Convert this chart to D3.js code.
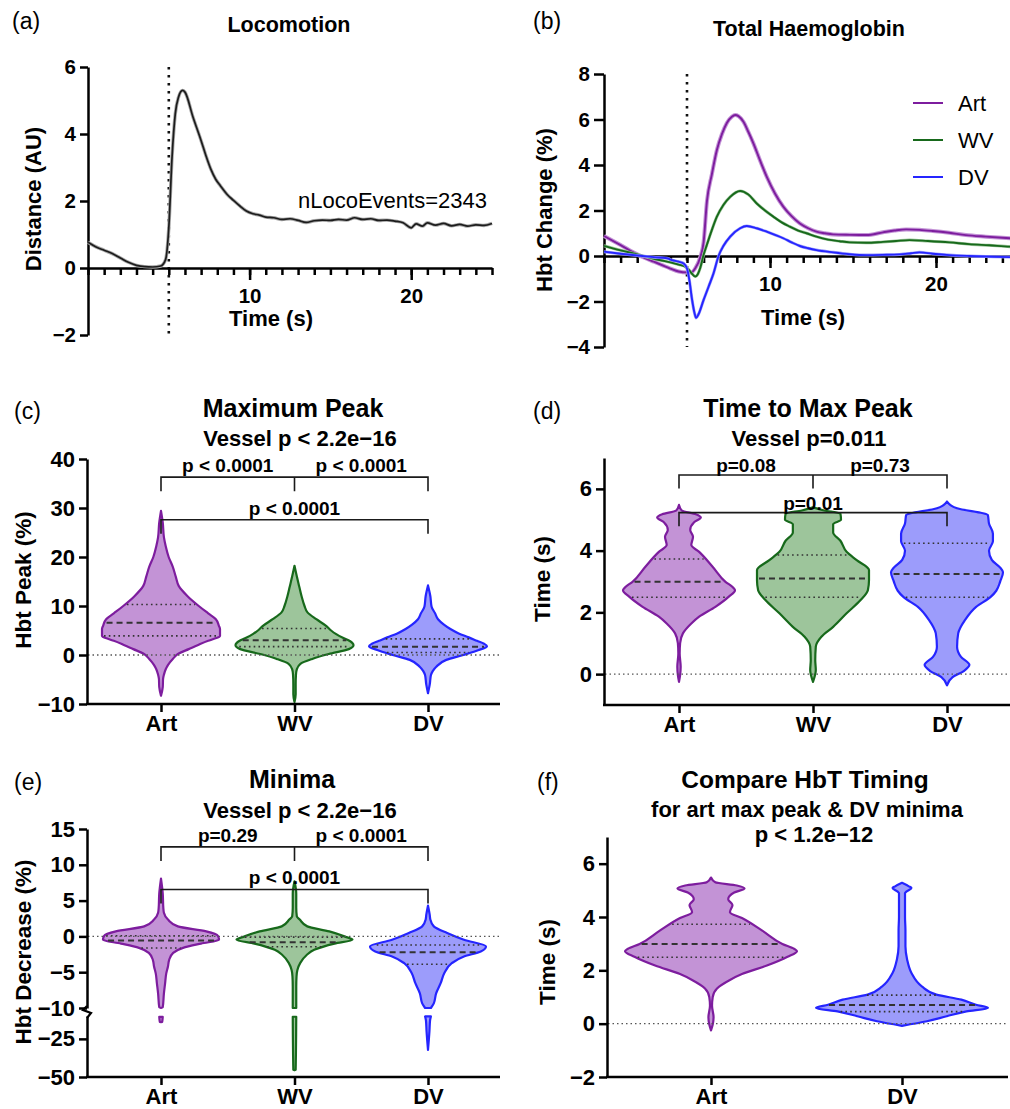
<!DOCTYPE html>
<html>
<head>
<meta charset="utf-8">
<script src="https://cdn.jsdelivr.net/npm/d3@7"></script>
<style>
  body { margin: 0; background: #fff; }
  svg { display: block; }
</style>
</head>
<body>
<div id="fig"></div>
<script>
// ---- data -------------------------------------------------------------

const vesselNames = ['Art', 'WV', 'DV'];
const vesselStroke = ['#7d1d9e', '#17691b', '#2525ff'];
const vesselFill = ['#c393d6', '#9dc59b', '#9c9cfb'];

// (a) locomotion, [time s, distance AU]
const locoTrace = [
  [0, 0.77], [0.5, 0.63], [1, 0.53], [1.5, 0.43], [2, 0.3], [2.5, 0.17], [3, 0.08], [3.5, 0.04],
  [4, 0.03], [4.5, 0.06], [4.8, 0.25], [5.0, 1.2], [5.2, 3.3], [5.4, 4.6], [5.6, 5.1], [5.85, 5.3],
  [6.0, 5.25], [6.5, 4.5], [7.0, 3.8], [7.3, 3.35], [7.6, 2.95], [7.9, 2.65], [8.2, 2.45],
  [8.6, 2.2], [9.0, 2.02], [9.4, 1.85], [9.8, 1.7], [10.2, 1.62], [10.6, 1.58], [11, 1.52],
  [11.5, 1.5], [12, 1.45], [12.5, 1.47], [13, 1.42], [13.5, 1.36], [14, 1.41], [14.5, 1.43],
  [15, 1.42], [15.5, 1.45], [16, 1.43], [16.5, 1.5], [17, 1.45], [17.5, 1.47], [18, 1.42],
  [18.5, 1.43], [19, 1.4], [19.5, 1.35], [20, 1.2], [20.3, 1.32], [20.7, 1.25], [21, 1.35],
  [21.5, 1.28], [22, 1.33], [22.5, 1.26], [23, 1.3], [23.5, 1.25], [24, 1.29], [24.5, 1.27], [25, 1.33]
];

// (b) total haemoglobin, [time s, change %]
const hbtArt = [
  [0, 0.88], [1, 0.48], [2, 0.07], [2.5, -0.1], [3, -0.25], [3.5, -0.4], [4, -0.55], [4.5, -0.68],
  [5, -0.72], [5.25, -0.72], [5.5, -0.54], [5.8, -0.05], [6.0, 0.6], [6.2, 2.4], [6.5, 3.6],
  [6.8, 4.66], [7.1, 5.35], [7.4, 5.85], [7.7, 6.12], [7.9, 6.2], [8.1, 6.15], [8.4, 5.9],
  [8.7, 5.45], [9.0, 4.95], [9.4, 4.2], [9.8, 3.49], [10.3, 2.75], [10.8, 2.17], [11.3, 1.75],
  [11.8, 1.43], [12.3, 1.22], [12.8, 1.07], [13.3, 1.0], [13.8, 0.95], [14.8, 0.93], [15.8, 0.92],
  [16.8, 1.04], [17.5, 1.12], [18.2, 1.17], [19, 1.15], [19.8, 1.1], [20.8, 1.02], [21.8, 0.92],
  [23, 0.85], [24, 0.8], [25, 0.76]
];
const hbtWV = [
  [0, 0.45], [1, 0.25], [2, 0.07], [2.5, -0.03], [3, -0.12], [3.5, -0.2], [4, -0.28], [4.5, -0.38],
  [4.9, -0.47], [5.1, -0.6], [5.3, -0.78], [5.5, -0.9], [5.65, -0.8], [5.8, -0.52], [6.0, 0.05],
  [6.2, 0.5], [6.5, 1.15], [6.8, 1.73], [7.2, 2.25], [7.6, 2.6], [8.2, 2.86], [8.7, 2.7], [9.2, 2.31],
  [9.7, 2.0], [10.2, 1.73], [10.7, 1.48], [11.2, 1.29], [11.7, 1.12], [12.2, 1.0], [12.8, 0.85],
  [13.5, 0.72], [14.2, 0.65], [14.8, 0.6], [15.8, 0.58], [16.8, 0.62], [17.6, 0.66], [18.4, 0.7],
  [19.5, 0.66], [20.8, 0.6], [22, 0.52], [23.2, 0.47], [24.5, 0.41], [25, 0.4]
];
const hbtDV = [
  [0, 0.19], [1, 0.1], [2, 0.02], [3, -0.05], [3.8, -0.1], [4.1, -0.18], [4.5, -0.25], [4.8, -0.33],
  [5.0, -0.55], [5.15, -1.1], [5.3, -1.9], [5.45, -2.5], [5.55, -2.72], [5.7, -2.55], [6.0, -1.93],
  [6.3, -1.35], [6.6, -0.76], [6.9, 0.0], [7.2, 0.45], [7.6, 0.85], [8.2, 1.22], [8.6, 1.32],
  [9.2, 1.22], [9.8, 1.07], [10.3, 0.93], [10.8, 0.78], [11.3, 0.6], [11.8, 0.44], [12.3, 0.34],
  [12.8, 0.26], [13.8, 0.16], [14.8, 0.08], [15.8, 0.04], [16.8, 0.05], [17.8, 0.07], [18.5, 0.12],
  [19, 0.16], [19.8, 0.1], [20.8, 0.04], [22, 0.0], [23.5, -0.03], [25, -0.06]
];

// violins: [value, relative density]
const maxPeakArt = [
  [29.4, 0], [27, 0.03], [24, 0.05], [22.2, 0.08], [20, 0.13], [18, 0.2], [16, 0.25], [14.1, 0.3],
  [12, 0.45], [10, 0.64], [8.5, 0.8], [7.3, 0.93], [6, 0.98], [5.3, 1.0], [3.9, 1.0], [3.3, 0.9],
  [2.9, 0.8], [2, 0.62], [1.2, 0.47], [0.3, 0.3], [-0.8, 0.2], [-2, 0.12], [-2.9, 0.08],
  [-4, 0.05], [-4.9, 0.035], [-6.5, 0.03], [-8.3, 0]
];
const maxPeakWV = [
  [18.2, 0], [16, 0.04], [14, 0.08], [12, 0.12], [10, 0.17], [8.7, 0.22], [7.3, 0.37], [6, 0.53],
  [5, 0.62], [4.3, 0.7], [3.5, 0.82], [2.9, 0.93], [2.0, 1.0], [1.2, 0.92], [0.2, 0.58],
  [-0.8, 0.3], [-1.8, 0.1], [-2.9, 0.04], [-4, 0.025], [-6, 0.02], [-8, 0.02], [-9.6, 0]
];
const maxPeakDV = [
  [14.2, 0], [12, 0.04], [9.9, 0.06], [8.5, 0.12], [7.3, 0.17], [6.2, 0.27], [5.3, 0.38],
  [4.4, 0.52], [3.6, 0.69], [2.9, 0.83], [2.3, 0.95], [1.8, 1.0], [1.0, 0.86], [0, 0.6],
  [-1.0, 0.31], [-2.4, 0.14], [-3.3, 0.08], [-4.1, 0.05], [-6, 0.03], [-7.8, 0]
];
const maxPeakQuart = [[10.3, 6.6, 3.9], [5.4, 3.0, 1.7], [3.3, 1.7, 0.5]];
const maxPeakP = ['p < 0.0001', 'p < 0.0001', 'p < 0.0001'];

const timePeakArt = [
  [5.48, 0], [5.3, 0.05], [5.18, 0.3], [5.07, 0.39], [4.92, 0.27], [4.67, 0.2], [4.45, 0.25],
  [4.18, 0.22], [3.96, 0.36], [3.48, 0.6], [2.99, 0.83], [2.8, 0.97], [2.72, 1.0], [2.51, 0.89],
  [2.18, 0.65], [1.86, 0.36], [1.64, 0.22], [1.32, 0.07], [1.0, 0.02], [0.67, 0.012],
  [0.24, 0.03], [-0.03, 0.02], [-0.25, 0]
];
const timePeakWV = [
  [5.4, 0], [5.3, 0.2], [5.2, 0.49], [5.0, 0.5], [4.86, 0.36], [4.59, 0.36], [4.32, 0.49],
  [3.96, 0.6], [3.69, 0.78], [3.37, 1.0], [3.04, 1.0], [2.72, 0.98], [2.4, 0.85], [1.97, 0.6],
  [1.53, 0.36], [1.21, 0.15], [0.89, 0.05], [0.45, 0.04], [0.13, 0.05], [-0.25, 0]
];
const timePeakDV = [
  [5.59, 0], [5.37, 0.18], [5.15, 0.73], [4.88, 0.75], [4.55, 0.82], [4.3, 0.82], [4.0, 0.75],
  [3.7, 0.8], [3.45, 0.95], [3.3, 1.0], [3.0, 0.95], [2.7, 0.88], [2.5, 0.78], [2.18, 0.52],
  [1.75, 0.32], [1.32, 0.2], [0.89, 0.18], [0.56, 0.25], [0.3, 0.4], [0.1, 0.3], [-0.1, 0.1], [-0.36, 0]
];
const timePeakQuart = [[3.73, 2.99, 2.49], [3.86, 3.1, 2.49], [4.24, 3.24, 2.49]];
const timePeakP = ['p=0.08', 'p=0.73', 'p=0.01'];

const minimaArt = [
  [8.06, 0], [6, 0.03], [4, 0.04], [3.3, 0.05], [2.35, 0.12], [1.4, 0.29], [0.7, 0.78],
  [0.1, 0.98], [-0.47, 1.0], [-1.0, 0.69], [-1.6, 0.38], [-2.3, 0.21], [-3.3, 0.14],
  [-4.2, 0.12], [-5.2, 0.09], [-6.6, 0.07], [-8, 0.05], [-9.9, 0.03], [-10, 0]
];
const minimaWV = [
  [7.7, 0], [6, 0.03], [4, 0.03], [2.8, 0.04], [2.35, 0.09], [1.4, 0.22], [0.7, 0.6], [0, 0.86],
  [-0.47, 1.0], [-1.0, 0.69], [-1.87, 0.34], [-2.6, 0.21], [-3.7, 0.1], [-4.7, 0.05],
  [-5.6, 0.035], [-7, 0.03], [-10, 0.03]
];
const minimaDV = [
  [4.3, 0], [3, 0.03], [2.35, 0.04], [1.4, 0.1], [0.47, 0.33], [-0.47, 0.62], [-1.4, 1.0],
  [-2.1, 0.91], [-2.8, 0.62], [-3.74, 0.41], [-5.14, 0.28], [-6.5, 0.22], [-7.95, 0.14],
  [-9.35, 0.1], [-10, 0.05]
];
// part of the minima violins below the axis break
const minimaArtLow = [[-10.6, 0.03], [-13.9, 0.02], [-14, 0]];
const minimaWVLow = [[-10.5, 0.03], [-45.4, 0.02], [-45.6, 0]];
const minimaDVLow = [[-10.3, 0.05], [-13, 0.035], [-20, 0.025], [-32.2, 0]];
const minimaQuart = [[0.1, -0.56, -1.63], [-0.1, -0.8, -1.45], [-1.2, -2.2, -3.9]];
const minimaP = ['p=0.29', 'p < 0.0001', 'p < 0.0001'];

const timingNames = ['Art', 'DV'];
const timingDV = [
  [5.28, 0], [5.15, 0.08], [5.09, 0.11], [4.95, 0.05], [4.9, 0.035], [4.5, 0.035], [4, 0.035],
  [3.5, 0.04], [2.9, 0.04], [2.4, 0.06], [1.9, 0.11], [1.4, 0.23], [1.09, 0.4], [0.9, 0.69],
  [0.71, 0.86], [0.59, 1.0], [0.46, 0.75], [0.28, 0.52], [0.09, 0.29], [-0.08, 0]
];
const timingQuart = [[3.73, 2.99, 2.49], [1.07, 0.7, 0.45]];

// ---- drawing -----------------------------------------------------------

const FONT = '"Liberation Sans", Arial, Helvetica, sans-serif';
const svg = d3.select('#fig').append('svg')
  .attr('width', 1010).attr('height', 1109)
  .style('font-family', FONT);

function label(x, y, str, size, weight, anchor, rotate) {
  const t = svg.append('text')
    .attr('font-size', size)
    .attr('font-weight', weight || 'bold')
    .attr('text-anchor', anchor || 'middle')
    .attr('fill', '#000')
    .text(str);
  if (rotate) t.attr('transform', `translate(${x},${y}) rotate(-90)`);
  else t.attr('x', x).attr('y', y);
  return t;
}

function styleAxis(g, fs) {
  g.attr('font-family', FONT).attr('font-size', fs).attr('font-weight', 'bold');
  g.select('.domain').attr('stroke', '#000').attr('stroke-width', 2.5);
  g.selectAll('.tick line').attr('stroke', '#000').attr('stroke-width', 2.5);
  g.selectAll('.tick text').attr('fill', '#000');
}

function yAxis(x, scale, ticks, fs, size) {
  const g = svg.append('g').attr('transform', `translate(${x},0)`)
    .call(d3.axisLeft(scale).tickValues(ticks).tickFormat(d3.format('d'))
      .tickSize(size || 8).tickSizeOuter(0).tickPadding(4));
  styleAxis(g, fs);
  return g;
}

function timeAxis(scale, y0) {
  // minor ticks every second, labels at 10 and 20
  const minor = svg.append('g').attr('transform', `translate(0,${y0})`)
    .call(d3.axisBottom(scale).tickValues(d3.range(0, 26)).tickSize(7).tickSizeOuter(0).tickFormat(''));
  styleAxis(minor, 20.5);
  const major = svg.append('g').attr('transform', `translate(0,${y0})`)
    .call(d3.axisBottom(scale).tickValues([10, 20]).tickSize(12).tickPadding(8));
  styleAxis(major, 20.5);
  major.select('.domain').remove();
}

function vline(x, y1, y2) {
  svg.append('line').attr('x1', x).attr('x2', x).attr('y1', y1).attr('y2', y2)
    .attr('stroke', '#111').attr('stroke-width', 2.6).attr('stroke-dasharray', '2.5,5.5');
}

// ---- (a) Locomotion
const xA = d3.scaleLinear().domain([0, 25]).range([88, 492]);
const yA = d3.scaleLinear().domain([-2, 6]).range([335, 67]);
vline(xA(5), yA(6), yA(-2));
yAxis(88, yA, [-2, 0, 2, 4, 6], 20.5);
timeAxis(xA, yA(0));
const locoLine = d3.line().x(d => xA(d[0])).y(d => yA(d[1])).curve(d3.curveMonotoneX);
svg.append('path').attr('d', locoLine(locoTrace)).attr('fill', 'none')
  .attr('stroke', '#a8a8a8').attr('stroke-width', 3.4);
svg.append('path').attr('d', locoLine(locoTrace)).attr('fill', 'none')
  .attr('stroke', '#1c1c1c').attr('stroke-width', 1.7);
label(12, 29, '(a)', 23, 'normal', 'start');
label(289, 32, 'Locomotion', 21.5);
label(271, 326, 'Time (s)', 22);
label(41, 199, 'Distance (AU)', 22, 'bold', 'middle', true);
label(298, 208, 'nLocoEvents=2343', 22, 'normal', 'start');

// ---- (b) Total Haemoglobin
const xB = d3.scaleLinear().domain([0, 25]).range([604, 1019]);
const yB = d3.scaleLinear().domain([-4, 8]).range([347, 74]);
vline(xB(5), yB(8), yB(-4));
yAxis(604, yB, [-4, -2, 0, 2, 4, 6, 8], 20.5, 10);
timeAxis(xB, yB(0));
const hbtLine = d3.line().x(d => xB(d[0])).y(d => yB(d[1])).curve(d3.curveMonotoneX);
[hbtArt, hbtWV, hbtDV].forEach((s, i) => {
  svg.append('path').attr('d', hbtLine(s)).attr('fill', 'none')
    .attr('stroke', vesselFill[i]).attr('stroke-width', i === 0 ? 4 : 3);
  svg.append('path').attr('d', hbtLine(s)).attr('fill', 'none')
    .attr('stroke', vesselStroke[i]).attr('stroke-width', 1.9);
});
vesselNames.forEach((n, i) => {
  const ly = 103 + i * 37;
  svg.append('line').attr('x1', 913).attr('x2', 943).attr('y1', ly).attr('y2', ly)
    .attr('stroke', vesselStroke[i]).attr('stroke-width', 2);
  label(958, ly + 8, n, 22, 'normal', 'start');
});
label(533, 29, '(b)', 23, 'normal', 'start');
label(809, 36, 'Total Haemoglobin', 21.5);
label(803, 325, 'Time (s)', 22);
label(552, 210, 'Hbt Change (%)', 22, 'bold', 'middle', true);

// ---- violin helpers
function densAt(dens, v) {
  for (let i = 0; i < dens.length - 1; i++) {
    const a = dens[i], b = dens[i + 1];
    if (v <= a[0] && v >= b[0]) {
      const f = (a[0] - v) / (a[0] - b[0]);
      return a[1] + f * (b[1] - a[1]);
    }
  }
  return 0;
}

function drawViolin(dens, quart, cx, y, w, ci) {
  const area = d3.area().curve(d3.curveMonotoneY)
    .y(d => y(d[0]))
    .x0(d => cx - w(d[1]))
    .x1(d => cx + w(d[1]));
  svg.append('path').attr('d', area(dens))
    .attr('fill', vesselFill[ci]).attr('stroke', vesselStroke[ci])
    .attr('stroke-width', 2.2).attr('stroke-linejoin', 'round');
  quart.forEach((v, i) => {
    const hw = Math.max(0, w(densAt(dens, v)) - 2);
    svg.append('line').attr('x1', cx - hw).attr('x2', cx + hw).attr('y1', y(v)).attr('y2', y(v))
      .attr('stroke', '#333')
      .attr('stroke-width', i === 1 ? 2 : 1.6)
      .attr('stroke-dasharray', i === 1 ? '6,4' : '1.6,3.2');
  });
}

function zeroLine(x1, x2, y) {
  svg.append('line').attr('x1', x1).attr('x2', x2).attr('y1', y).attr('y2', y)
    .attr('stroke', '#555').attr('stroke-width', 1.3).attr('stroke-dasharray', '1.5,3');
}

function catAxis(xCat, y0, x1, x2) {
  svg.append('line').attr('x1', x1).attr('x2', x2).attr('y1', y0).attr('y2', y0)
    .attr('stroke', '#000').attr('stroke-width', 2.5);
  const g = svg.append('g').attr('transform', `translate(0,${y0})`)
    .call(d3.axisBottom(xCat).tickSize(8).tickPadding(3));
  styleAxis(g, 22);
  g.select('.domain').remove();
}

function brackets(xCat, y, upper, lower, labels, tick, gap) {
  const xa = xCat('Art'), xw = xCat('WV'), xd = xCat('DV');
  const yu = y(upper), yl = y(lower);
  const pen = p => svg.append('path').attr('d', p).attr('fill', 'none')
    .attr('stroke', '#1a1a1a').attr('stroke-width', 1.6);
  pen(`M${xa},${yu + tick}V${yu}H${xd}V${yu + tick}M${xw},${yu}V${yu + tick}`);
  pen(`M${xa},${yl + tick}V${yl}H${xd}V${yl + tick}`);
  label((xa + xw) / 2, yu - gap, labels[0], 19);
  label((xw + xd) / 2, yu - gap, labels[1], 19);
  label((xa + xd) / 2, yl - gap, labels[2], 19);
}

// ---- (c) Maximum Peak
const xC = d3.scalePoint().domain(vesselNames).range([161, 428]);
const yC = d3.scaleLinear().domain([-10, 40]).range([704, 459]);
const wC = d3.scaleLinear().domain([0, 1]).range([0, 59]);
[maxPeakArt, maxPeakWV, maxPeakDV].forEach((d, i) =>
  drawViolin(d, maxPeakQuart[i], xC(vesselNames[i]), yC, wC, i));
zeroLine(88, 500, yC(0));
yAxis(87, yC, [-10, 0, 10, 20, 30, 40], 22);
catAxis(xC, 704, 86, 500);
brackets(xC, yC, 36.3, 27.6, maxPeakP, 14, 5);
label(14, 419, '(c)', 23, 'normal', 'start');
label(293, 417, 'Maximum Peak', 25);
label(300, 446, 'Vessel p < 2.2e\u221216', 22);
label(31, 580, 'Hbt Peak (%)', 22.5, 'bold', 'middle', true);

// ---- (d) Time to Max Peak
const xD = d3.scalePoint().domain(vesselNames).range([679, 947]);
const yD = d3.scaleLinear().domain([-1, 7]).range([705, 458]);
const wD = d3.scaleLinear().domain([0, 1]).range([0, 56]);
[timePeakArt, timePeakWV, timePeakDV].forEach((d, i) =>
  drawViolin(d, timePeakQuart[i], xD(vesselNames[i]), yD, wD, i));
zeroLine(605, 1010, yD(0));
yAxis(604, yD, [0, 2, 4, 6], 22);
catAxis(xD, 705, 603, 1010);
brackets(xD, yD, 6.45, 5.23, timePeakP, 13.5, 3);
label(533, 419, '(d)', 23, 'normal', 'start');
label(808, 417, 'Time to Max Peak', 25);
label(809, 446, 'Vessel p=0.011', 22);
label(550, 579, 'Time (s)', 22.5, 'bold', 'middle', true);

// ---- (e) Minima, broken y axis
const xE = d3.scalePoint().domain(vesselNames).range([161, 428]);
const yEtop = d3.scaleLinear().domain([-10, 15]).range([1008, 829]);
const yEbot = d3.scaleLinear().domain([-50, -10]).range([1077, 1016]);
const wE = d3.scaleLinear().domain([0, 1]).range([0, 58]);
[minimaArt, minimaWV, minimaDV].forEach((d, i) =>
  drawViolin(d, minimaQuart[i], xE(vesselNames[i]), yEtop, wE, i));
[minimaArtLow, minimaWVLow, minimaDVLow].forEach((d, i) =>
  drawViolin(d, [], xE(vesselNames[i]), yEbot, wE, i));
zeroLine(88, 500, yEtop(0));
yAxis(87, yEtop, [-10, -5, 0, 5, 10, 15], 22);
yAxis(87, yEbot, [-50, -25], 22);
svg.append('path').attr('d', 'M87,1006L83,1010L91,1013L87,1018')
  .attr('fill', 'none').attr('stroke', '#000').attr('stroke-width', 2.2);
catAxis(xE, 1077, 86, 500);
brackets(xE, yEtop, 12.5, 6.56, minimaP, 14, 5);
label(14, 790, '(e)', 23, 'normal', 'start');
label(292, 788, 'Minima', 25);
label(300, 818, 'Vessel p < 2.2e\u221216', 22);
label(31, 952, 'Hbt Decrease (%)', 22.5, 'bold', 'middle', true);

// ---- (f) Compare HbT Timing
const xF = d3.scalePoint().domain(timingNames).range([711, 902]);
const yF = d3.scaleLinear().domain([-2, 7]).range([1077, 837]);
const wF = d3.scaleLinear().domain([0, 1]).range([0, 86]);
drawViolin(timePeakArt, timingQuart[0], xF('Art'), yF, wF, 0);
drawViolin(timingDV, timingQuart[1], xF('DV'), yF, wF, 2);
zeroLine(608, 1008, yF(0));
yAxis(607, yF, [-2, 0, 2, 4, 6], 22);
catAxis(xF, 1077, 606, 1008);
label(537, 790, '(f)', 23, 'normal', 'start');
label(805, 788, 'Compare HbT Timing', 24.5);
label(807, 817, 'for art max peak & DV minima', 22);
label(814, 842, 'p < 1.2e\u221212', 22);
label(555, 962, 'Time (s)', 22.5, 'bold', 'middle', true);
</script>
</body>
</html>
